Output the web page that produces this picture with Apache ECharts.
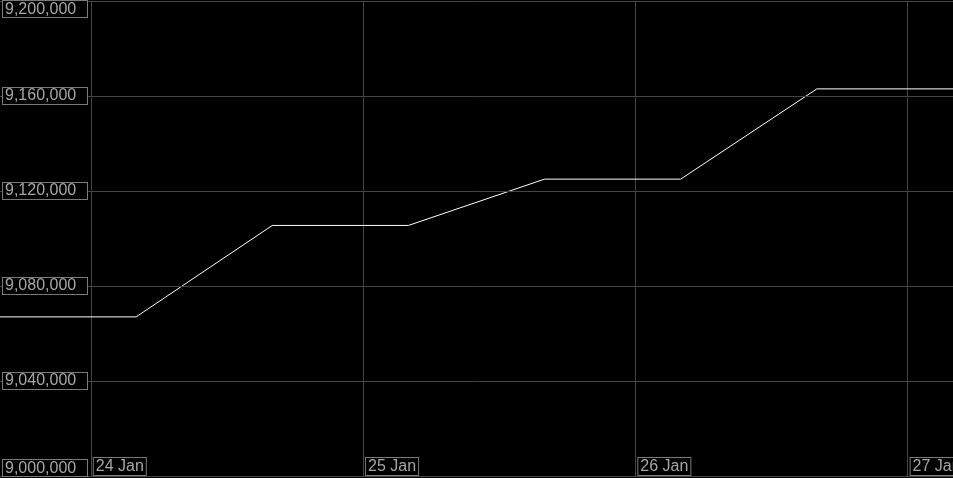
<!DOCTYPE html>
<html>
<head>
<meta charset="utf-8">
<script src="https://cdn.jsdelivr.net/npm/echarts@6/dist/echarts.min.js"></script>
<style>
html,body{margin:0;padding:0;background:#000;}
#c{width:953px;height:478px;}
</style>
</head>
<body>
<div id="c"></div>
<script>
// Data (UTC timestamps, values)
const times = [
  Date.UTC(2025,0,23,16), Date.UTC(2025,0,24,4), Date.UTC(2025,0,24,16),
  Date.UTC(2025,0,25,4), Date.UTC(2025,0,25,16), Date.UTC(2025,0,26,4),
  Date.UTC(2025,0,26,16), Date.UTC(2025,0,27,4)
];
const values = [9067000, 9067000, 9105500, 9105500, 9125000, 9125000, 9163000, 9163000];
const dayTicks = [Date.UTC(2025,0,24), Date.UTC(2025,0,25), Date.UTC(2025,0,26), Date.UTC(2025,0,27)];
const yMid = [9040000, 9080000, 9120000, 9160000];
const yMin = 9000000, yMax = 9200000, yStep = 40000;
const xMin = Date.UTC(2025,0,23,16), xMax = Date.UTC(2025,0,27,4);
const months = ['Jan','Feb','Mar','Apr','May','Jun','Jul','Aug','Sep','Oct','Nov','Dec'];

const TXT = '#a6a6a6', BOX = '#7a7a7a', GRID = '#454545';
const font = 'Liberation Sans, Arial, sans-serif';
const fmtNum = v => v.toLocaleString('en-US');

function yLabel(vals, vAlign) {
  return {
    inside: true, margin: 3, customValues: vals, align: 'left', verticalAlign: vAlign,
    color: TXT, fontFamily: font, fontSize: 16, lineHeight: 15,
    borderColor: BOX, borderWidth: 1, backgroundColor: '#000',
    padding: [1, 2, 0, 2], width: 80, formatter: fmtNum
  };
}
function yAxisBase(label, grid) {
  return {
    type: 'value', min: yMin, max: yMax, interval: yStep, position: 'left',
    axisLine: {show: false}, axisTick: {show: false},
    splitLine: {show: grid, lineStyle: {color: GRID, width: 1}},
    axisLabel: label, z: 5
  };
}

const data = times.map((t, i) => [t, values[i]]);
const chart = echarts.init(document.getElementById('c'));
chart.setOption({
  backgroundColor: '#000',
  animation: false,
  grid: {left: 0, right: 0, top: 1, bottom: 2, containLabel: false, outerBoundsMode: 'none'},
  xAxis: {
    type: 'value', min: xMin, max: xMax, scale: true,
    axisLine: {show: true, lineStyle: {color: '#6a6a6a', width: 1}},
    axisTick: {show: false, customValues: dayTicks},
    splitLine: {show: true, lineStyle: {color: GRID, width: 1}},
    axisLabel: {
      inside: true, margin: 2, customValues: dayTicks, align: 'left', verticalAlign: 'bottom',
      padding: [0, 0, 0, 3],
      formatter: v => { const d = new Date(v); return '{b|' + d.getUTCDate() + ' ' + months[d.getUTCMonth()] + '}'; },
      rich: {b: {color: TXT, fontFamily: font, fontSize: 16, lineHeight: 15,
        borderColor: BOX, borderWidth: 1, backgroundColor: '#000', padding: [1, 2, 0, 2]}}
    }
  },
  yAxis: [
    yAxisBase(yLabel(yMid, 'middle'), true),
    yAxisBase(yLabel([yMax], 'top'), false),
    yAxisBase(yLabel([yMin], 'bottom'), false)
  ],
  series: [{
    type: 'line', data: data, showSymbol: false, symbol: 'none',
    lineStyle: {color: '#ffffff', width: 1}, z: 3
  }]
});
</script>
</body>
</html>
